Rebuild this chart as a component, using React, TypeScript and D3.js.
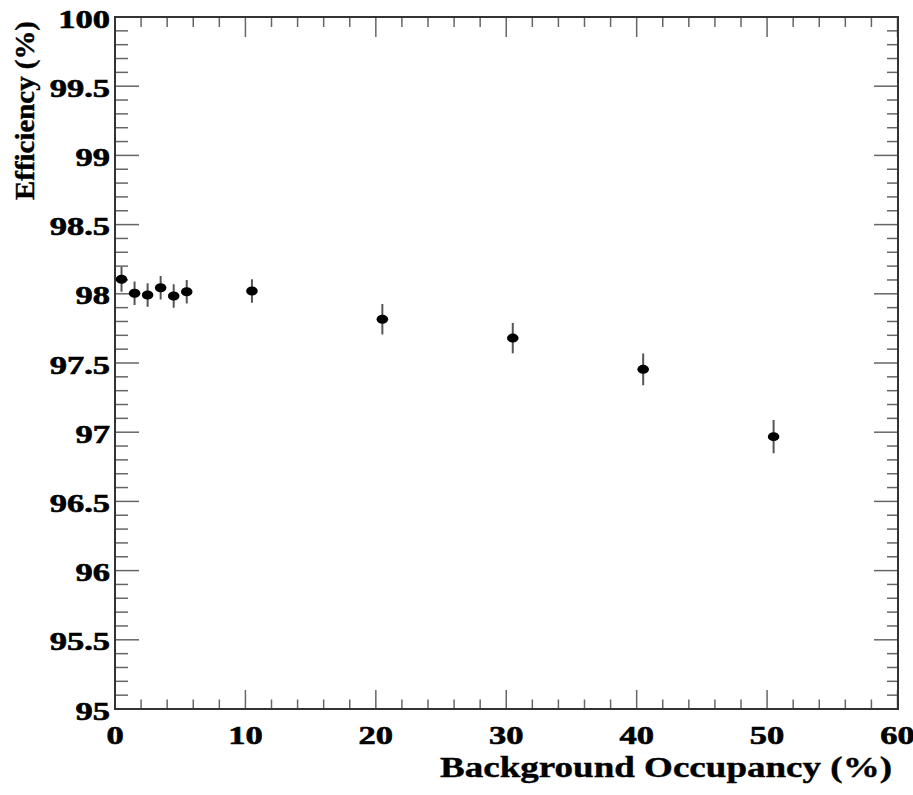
import React from 'react';
import * as d3 from 'd3';

// occupancy (%) and measured efficiency (%) with its error
const occupancy = [0.5, 1.5, 2.5, 3.5, 4.5, 5.5, 10.5, 20.5, 30.5, 40.5, 50.5];
const efficiency = [98.105, 98.004, 97.991, 98.044, 97.984, 98.015, 98.02, 97.816, 97.68, 97.454, 96.968];
const efficiencyErr = [0.09, 0.085, 0.085, 0.085, 0.085, 0.085, 0.085, 0.11, 0.11, 0.115, 0.12];

const xTickValues = [0, 10, 20, 30, 40, 50, 60];
const yTickValues = [95, 95.5, 96, 96.5, 97, 97.5, 98, 98.5, 99, 99.5, 100];

const width = 913;
const height = 795;
const left = 115;
const right = 898;
const top = 17;
const bottom = 709;

const font = '"Liberation Serif", "Times New Roman", serif';
const tickColor = '#666';

export default function App() {
  const x = d3.scaleLinear().domain([0, 60]).range([left, left + 782.5]);
  const y = d3.scaleLinear().domain([95, 100]).range([bottom, top]);

  // minor ticks every 2 on x, every 0.1 on y
  const xMinor = d3.range(0, 60.001, 2).filter(v => Math.abs(v % 10) > 1e-6);
  const yMinor = d3.range(95, 100.001, 0.1).filter(v => Math.abs(Math.round(v * 2) - v * 2) > 1e-6);

  const fmtY = (v: number) => (Number.isInteger(v) ? String(v) : v.toFixed(1));

  return (
    <svg width={width} height={height} style={{ position: 'absolute', left: 0, top: 0, background: '#fff' }}>
      <rect x={0} y={0} width={width} height={height} fill="#fff" />
      <g stroke={tickColor} strokeWidth={1.5}>
        {xTickValues.map(v => (
          <g key={'xM' + v}>
            <line x1={x(v)} x2={x(v)} y1={bottom} y2={bottom - 19} />
            <line x1={x(v)} x2={x(v)} y1={top} y2={top + 20} />
          </g>
        ))}
        {xMinor.map(v => (
          <g key={'xm' + v}>
            <line x1={x(v)} x2={x(v)} y1={bottom} y2={bottom - 9.5} />
            <line x1={x(v)} x2={x(v)} y1={top} y2={top + 10} />
          </g>
        ))}
        {yTickValues.map(v => (
          <g key={'yM' + v}>
            <line x1={left} x2={left + 24} y1={y(v)} y2={y(v)} />
            <line x1={right} x2={right - 24} y1={y(v)} y2={y(v)} />
          </g>
        ))}
        {yMinor.map(v => (
          <g key={'ym' + v.toFixed(2)}>
            <line x1={left} x2={left + 13} y1={y(v)} y2={y(v)} />
            <line x1={right} x2={right - 11} y1={y(v)} y2={y(v)} />
          </g>
        ))}
      </g>
      <rect x={left} y={top} width={right - left} height={bottom - top} fill="none" stroke="#333" strokeWidth={2} />

      {/* tick labels */}
      <g fontFamily={font} fontWeight="bold" fontSize={25} fill="#000" stroke="#000" strokeWidth={0.6}>
        {yTickValues.map(v => (
          <text key={'yl' + v} textAnchor="end" transform={`translate(${left - 5},${y(v) + 10.5}) scale(1.38,1)`}>
            {fmtY(v)}
          </text>
        ))}
        {xTickValues.map(v => (
          <text key={'xl' + v} textAnchor="middle" transform={`translate(${x(v)},${bottom + 35}) scale(1.38,1)`}>
            {v}
          </text>
        ))}
      </g>

      {/* axis titles */}
      <text x={440} y={777} fontFamily={font} fontWeight="bold" fontSize={30} stroke="#000" strokeWidth={0.4}
        textLength={452} lengthAdjust="spacingAndGlyphs">
        Background Occupancy (%)
      </text>
      <text transform="translate(34,200) rotate(-90)" fontFamily={font} fontWeight="bold" fontSize={27} stroke="#000" strokeWidth={0.4}
        textLength={179} lengthAdjust="spacingAndGlyphs">
        Efficiency (%)
      </text>

      {/* data with error bars */}
      <g>
        {occupancy.map((o, i) => (
          <g key={'p' + i}>
            <line
              x1={x(o)} x2={x(o)}
              y1={y(efficiency[i] - efficiencyErr[i])} y2={y(efficiency[i] + efficiencyErr[i])}
              stroke="#555" strokeWidth={2}
            />
            <ellipse cx={x(o)} cy={y(efficiency[i])} rx={5.8} ry={4.5} fill="#000" />
          </g>
        ))}
      </g>
    </svg>
  );
}
